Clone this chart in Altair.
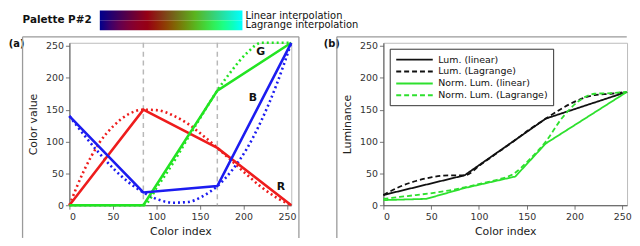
import altair as alt
import pandas as pd

# ---------------- data ----------------
nodes_x = [0, 85, 170, 255]
lin_R = [0, 150, 90, 0]
lin_G = [0, 0, 180, 255]
lin_B = [140, 20, 30, 255]

lag_x = [0, 17, 34, 51, 68, 85, 102, 119, 136, 153, 170, 187, 204, 221, 238, 255]
lag_R = [0, 55, 97, 125, 143, 150, 149, 141, 128, 110, 90, 69, 48, 28, 12, 0]
lag_G = [0, 0, 0, 0, 0, 0, 31, 66, 105, 143, 180, 212, 239, 255, 255, 255]
lag_B = [140, 110, 82, 57, 36, 20, 9, 4, 5, 14, 30, 55, 89, 134, 189, 255]

divider_x = [85, 170]
channel_names = ["R", "G", "B"]
channel_colors = ["#ee1c1c", "#22e422", "#1c1cf0"]
label_text = ["G", "B", "R"]
label_x = [220, 211, 243]
label_y = [241, 168, 29]

lum_lin_x = [0, 85, 170, 255]
lum_lin = [16, 47, 136, 178]
lum_lag = [16, 29, 38, 44, 47, 47, 64, 82, 100, 119, 136, 152, 165, 173, 175, 178]
norm_lin_x = [0, 45, 85, 138, 170, 255]
norm_lin = [8, 10, 27, 45, 97, 178]
norm_lag = [10, 13, 16, 19, 23, 28, 34, 40, 49, 72, 100, 137, 163, 175, 176, 178]

series_names = ["Lum. (linear)", "Lum. (Lagrange)", "Norm. Lum. (linear)", "Norm. Lum. (Lagrange)"]
series_colors = ["#111111", "#111111", "#2ee02e", "#2ee02e"]
series_dash = [[1, 0], [5, 3], [1, 0], [5, 3]]

tick_values = [0, 50, 100, 150, 200, 250]
FONT = "DejaVu Sans"

# ---------------- tables ----------------
lin_vals = {"R": lin_R, "G": lin_G, "B": lin_B}
lag_vals = {"R": lag_R, "G": lag_G, "B": lag_B}
ch_col = dict(zip(channel_names, channel_colors))
solid_df = pd.DataFrame([{"x": x, "v": v, "ch": c, "col": ch_col[c]}
                         for c in channel_names for x, v in zip(nodes_x, lin_vals[c])])
dot_df = pd.DataFrame([{"x": x, "v": v, "ch": c, "col": ch_col[c]}
                       for c in channel_names for x, v in zip(lag_x, lag_vals[c])])
div_df = pd.DataFrame({"x": divider_x})
lab_df = pd.DataFrame({"t": label_text, "x": label_x, "y": label_y})

lum_lin_df = pd.DataFrame(
    [{"x": x, "v": v, "s": series_names[0]} for x, v in zip(lum_lin_x, lum_lin)]
    + [{"x": x, "v": v, "s": series_names[2]} for x, v in zip(norm_lin_x, norm_lin)]
)
lum_lag_df = pd.DataFrame(
    [{"x": x, "v": v, "s": series_names[1]} for x, v in zip(lag_x, lum_lag)]
    + [{"x": x, "v": v, "s": series_names[3]} for x, v in zip(lag_x, norm_lag)]
)
one = pd.DataFrame({"k": [0]})


def hexc(r, g, b):
    return "#%02x%02x%02x" % (max(0, min(255, int(r))), max(0, min(255, int(g))), max(0, min(255, int(b))))


lin_grad = alt.LinearGradient(
    gradient="linear", x1=0, x2=1, y1=0, y2=0,
    stops=[alt.GradientStop(offset=x / 255, color=hexc(r, g, b)) for x, r, g, b in zip(nodes_x, lin_R, lin_G, lin_B)],
)
lag_grad = alt.LinearGradient(
    gradient="linear", x1=0, x2=1, y1=0, y2=0,
    stops=[alt.GradientStop(offset=x / 255, color=hexc(r, g, b)) for x, r, g, b in zip(lag_x, lag_R, lag_G, lag_B)],
)

xscale = alt.Scale(domain=[0, 255], nice=False)
yscale = alt.Scale(domain=[0, 255], nice=False)
x_enc = alt.X("x:Q", scale=xscale, axis=alt.Axis(values=tick_values, title="Color index"))
ya_enc = alt.Y("v:Q", scale=yscale, axis=alt.Axis(values=tick_values, title="Color value"))
yb_enc = alt.Y("v:Q", scale=yscale, axis=alt.Axis(values=tick_values, title="Luminance"))
ch_color = alt.Color("col:N", scale=None, legend=None)

# ---------------- panel (a) ----------------
dividers = alt.Chart(div_df).mark_rule(color="#b8b8b8", strokeDash=[5, 4], strokeWidth=1.5).encode(x=x_enc)
dotted = alt.Chart(dot_df).mark_line(strokeWidth=2.6, strokeDash=[2, 3], interpolate="monotone").encode(
    x=x_enc, y=ya_enc, color=ch_color, detail="ch:N",
)
solid = alt.Chart(solid_df).mark_line(strokeWidth=2.6).encode(
    x=x_enc, y=ya_enc, color=ch_color, detail="ch:N",
)
labels = alt.Chart(lab_df).mark_text(fontWeight="bold", fontSize=11, color="#111").encode(
    x=alt.X("x:Q", scale=xscale, axis=alt.Axis(values=tick_values, title="Color index")),
    y=alt.Y("y:Q", scale=yscale, axis=alt.Axis(values=tick_values, title="Color value")),
    text="t:N",
)


def deco_rule(x, x2, y, y2, color="#9a9a9a"):
    return alt.Chart(one).mark_rule(color=color, strokeWidth=1.3).encode(
        x=alt.value(x), x2=alt.value(x2), y=alt.value(y), y2=alt.value(y2)
    )


def deco_text(txt, x, y, size, weight="normal"):
    return alt.Chart(one).mark_text(
        text=txt, align="left", baseline="middle", fontSize=size, fontWeight=weight, color="#111"
    ).encode(x=alt.value(x), y=alt.value(y))


bar_top = alt.Chart(one).mark_rect(color=lin_grad).encode(
    x=alt.value(30.7), x2=alt.value(174.7), y=alt.value(-32.7), y2=alt.value(-22.7)
)
bar_bot = alt.Chart(one).mark_rect(color=lag_grad).encode(
    x=alt.value(30.7), x2=alt.value(174.7), y=alt.value(-22.7), y2=alt.value(-12.7)
)

frame_a = [
    deco_rule(-47.3, 231.7, -6, -6),
    deco_rule(-47.3, -47.3, -6, 197),
    deco_rule(231.7, 231.7, -6, 197),
]

panel_a = alt.layer(
    dividers, dotted, solid, labels, bar_top, bar_bot,
    deco_text("Palette P#2", -47.3, -22.7, 10.5, "bold"),
    deco_text("Linear interpolation", 177.7, -27.5, 10),
    deco_text("Lagrange interpolation", 177.7, -17.5, 10),
    deco_text("(a)", -61.3, 1.5, 10, "bold"),
    *frame_a,
).properties(width=224, height=164)

# ---------------- panel (b) ----------------
# wide horizontal stroke symbol with a small nominal size so rows stay compact
leg = alt.Legend(
    orient="none", legendX=6.4, legendY=6, title=None, symbolType="M-4,0H4", symbolSize=85,
    symbolStrokeWidth=2, symbolOffset=14, labelFontSize=9.5, labelFont=FONT, labelColor="#111",
    labelOffset=18, rowPadding=1, padding=5, strokeColor="#333", fillColor="white", labelLimit=200,
)
s_color = alt.Color("s:N", scale=alt.Scale(domain=series_names, range=series_colors), legend=leg)
s_dash = alt.StrokeDash("s:N", scale=alt.Scale(domain=series_names, range=series_dash), legend=leg)
lum_lines = alt.Chart(lum_lin_df).mark_line(strokeWidth=1.8).encode(
    x=x_enc, y=yb_enc, color=s_color, strokeDash=s_dash,
)
lag_lines = alt.Chart(lum_lag_df).mark_line(strokeWidth=1.8, interpolate="monotone").encode(
    x=x_enc, y=yb_enc, color=s_color, strokeDash=s_dash,
)
frame_b = [
    deco_rule(-47, 245.7, -6, -6),
    deco_rule(-47, -47, -6, 197),
]
panel_b = alt.layer(
    lum_lines, lag_lines,
    deco_text("(b)", -60.3, 1.5, 10, "bold"),
    *frame_b,
).properties(width=246, height=164)

chart = (
    alt.hconcat(panel_a, panel_b, spacing=93, bounds="flush")
    .resolve_scale(color="independent", strokeDash="independent")
    .resolve_legend(color="independent", strokeDash="independent")
    .properties(padding=0)
    .configure(font=FONT)
    .configure_view(stroke="#bbbbbb", strokeWidth=1)
    .configure_axis(
        grid=False, labelFont=FONT, labelFontSize=9.5, labelColor="#333", labelPadding=2,
        titleFont=FONT, titleFontSize=11, titleFontWeight="normal", titleColor="#222",
        tickColor="#777", tickSize=4, domainColor="#555", domainWidth=1,
    )
    .configure_axisX(titlePadding=5)
    .configure_axisY(titlePadding=7)
)

chart.save("out.html", embed_options={"renderer": "svg", "actions": False})
